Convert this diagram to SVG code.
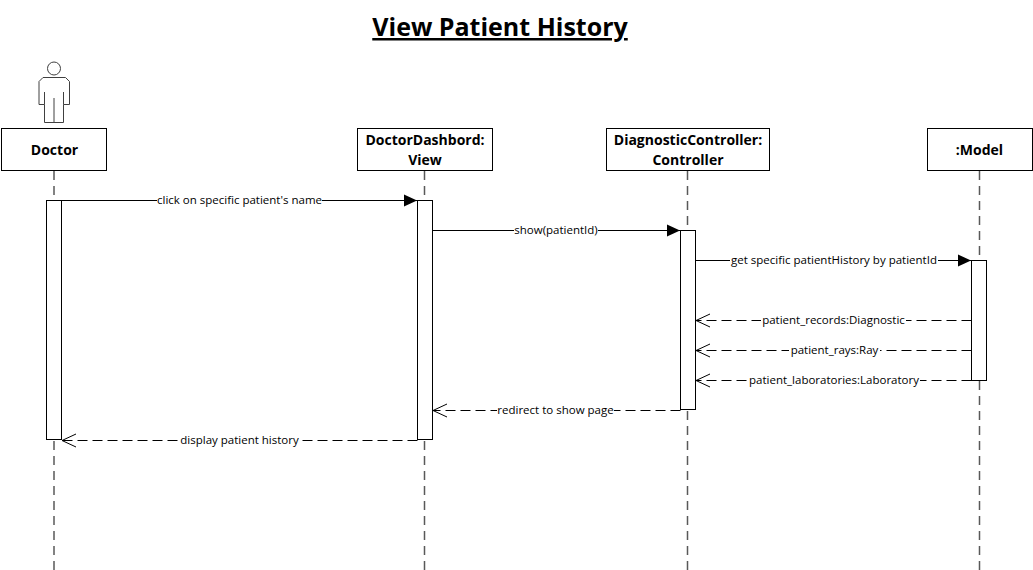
<svg xmlns="http://www.w3.org/2000/svg" width="1033" height="570" viewBox="0 0 1033 570">
<style>
text{font-family:"Open Sans","Noto Sans","Liberation Sans",sans-serif;fill:#000}
.title{font-size:25px;font-weight:700;text-anchor:middle;text-decoration:underline}
.name{font-size:14px;font-weight:700;text-anchor:middle}
.msg{font-size:11.500px;text-anchor:middle}
.box{fill:#fff;stroke:#000;stroke-width:1}
.life{fill:none;stroke:#595959;stroke-width:1.500;stroke-dasharray:9 6}
.act{fill:#fff;stroke:#000;stroke-width:1}
.call{fill:none;stroke:#000;stroke-width:1;marker-end:url(#solid)}
.ret{fill:none;stroke:#000;stroke-width:1;stroke-dasharray:10 5;marker-end:url(#open)}
.bg{fill:#fff}
.fig{fill:none;stroke:#404040;stroke-width:1}
</style>
<defs>
<marker id="solid" markerUnits="userSpaceOnUse" markerWidth="14" markerHeight="14" refX="13" refY="7" orient="auto"><path d="M0,1 L13,7 L0,13 Z" fill="#000"/></marker>
<marker id="open" markerUnits="userSpaceOnUse" markerWidth="15" markerHeight="16" refX="14" refY="8" orient="auto"><path d="M0,1.500 L14,8 L0,14.500" fill="none" stroke="#000"/></marker>
</defs>
<text class="title" x="500" y="36">View Patient History</text>
<g id="lifelines">
<path class="life" d="M54 171V570"/>
<path class="life" d="M424.500 171V570"/>
<path class="life" d="M687.500 171V570"/>
<path class="life" d="M979.500 171V570"/>
</g>
<g id="doctor">
<circle class="fig" cx="54" cy="68.500" r="6.500"/>
<path class="fig" d="M43 77.500H65.500L69.500 81.500V104.500H63.500V122.500H44.500V104.500H39V81.500ZM44.500 92V104.500M63.500 92V104.500M54 98V122.500"/>
<rect class="box" x="1.500" y="128.500" width="105" height="42"/>
<text class="name" x="54.500" y="155">Doctor</text>
<rect class="act" x="46.500" y="200.500" width="15" height="239"/>
</g>
<g id="doctor-dashbord">
<rect class="box" x="357.500" y="128.500" width="135" height="42"/>
<text class="name" x="425" y="145">DoctorDashbord:</text>
<text class="name" x="425" y="164.500">View</text>
<rect class="act" x="417.500" y="200.500" width="15" height="239"/>
</g>
<g id="diagnostic-controller">
<rect class="box" x="606.500" y="128.500" width="163" height="42"/>
<text class="name" x="688" y="145">DiagnosticController:</text>
<text class="name" x="688" y="164.500">Controller</text>
<rect class="act" x="680.500" y="230.500" width="15" height="179"/>
</g>
<g id="model">
<rect class="box" x="927.500" y="128.500" width="105" height="42"/>
<text class="name" x="979.500" y="155">:Model</text>
<rect class="act" x="971.500" y="260.500" width="15" height="120"/>
</g>
<g id="connectors">
<path class="call" d="M61.500 200.500H417"/>
<rect class="bg" x="157" y="193" width="165" height="15"/>
<text class="msg" x="239.500" y="204">click on specific patient's name</text>
<path class="call" d="M432.500 230.500H680"/>
<rect class="bg" x="514" y="223" width="84" height="15"/>
<text class="msg" x="556" y="234">show(patientId)</text>
<path class="call" d="M695.500 260.500H971"/>
<rect class="bg" x="730" y="253" width="208" height="15"/>
<text class="msg" x="834" y="264">get specific patientHistory by patientId</text>
<path class="ret" d="M971.500 320.500H696"/>
<rect class="bg" x="761" y="313" width="145" height="15"/>
<text class="msg" x="833.500" y="324">patient_records:Diagnostic</text>
<path class="ret" d="M971.500 350.500H696"/>
<rect class="bg" x="789" y="343" width="91" height="15"/>
<text class="msg" x="834.500" y="354">patient_rays:Ray</text>
<path class="ret" d="M971.500 380.500H696"/>
<rect class="bg" x="748" y="373" width="172" height="15"/>
<text class="msg" x="834" y="384">patient_laboratories:Laboratory</text>
<path class="ret" d="M680.500 410.500H433"/>
<rect class="bg" x="497" y="403" width="117" height="15"/>
<text class="msg" x="555.500" y="414">redirect to show page</text>
<path class="ret" d="M417.500 440.500H62"/>
<rect class="bg" x="181" y="433" width="117" height="15"/>
<text class="msg" x="239.500" y="444">display patient history</text>
</g>
</svg>
